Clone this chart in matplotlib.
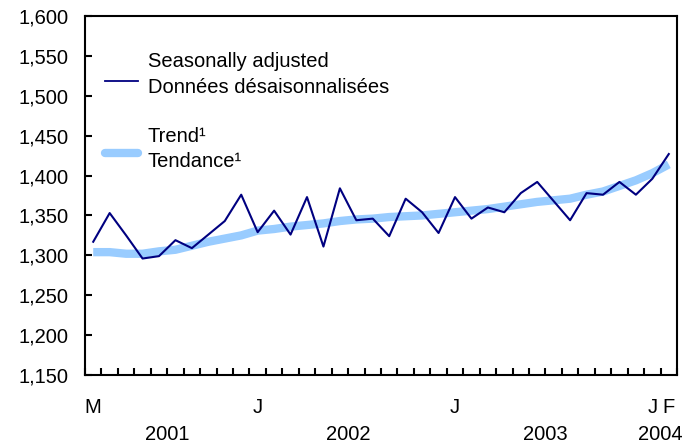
import matplotlib
matplotlib.use("Agg")
import matplotlib.pyplot as plt
import matplotlib.transforms as mtransforms
import numpy as np

plt.rcParams['font.family'] = ['Liberation Sans', 'DejaVu Sans']

# monthly series, March 2001 to February 2004
seasonally_adjusted = [1317, 1353, 1325, 1296, 1299, 1319, 1309, 1326, 1343, 1376,
                       1329, 1356, 1326, 1373, 1311, 1384, 1344, 1346, 1324, 1371,
                       1354, 1328, 1373, 1346, 1360, 1354, 1378, 1392, 1368, 1344,
                       1378, 1376, 1392, 1376, 1396, 1427]
trend = [1304, 1304, 1302, 1302, 1305, 1307, 1312, 1317, 1321, 1325,
         1331, 1333, 1336, 1338, 1340, 1343, 1345, 1346, 1348, 1349,
         1350, 1352, 1354, 1356, 1358, 1361, 1364, 1367, 1369, 1371,
         1376, 1380, 1387, 1394, 1403, 1414]

month_labels = {0: "M", 10: "J", 22: "J", 34: "J", 35: "F"}
year_labels = ["2001", "2002", "2003", "2004"]
year_spans = [(0, 10), (10, 22), (22, 34), (34, 36)]
y_ticks = list(range(1150, 1601, 50))

navy = "#000080"
light_blue = "#99CCFF"
fs = 14.5

fig = plt.figure(figsize=(6.99, 4.47), dpi=100)
ax = fig.add_axes([85/699, 1 - 375/447, 592/699, 359/447])

x = np.arange(len(seasonally_adjusted)) + 0.5
ax.plot(x, trend, color=light_blue, lw=6, solid_capstyle="butt", zorder=2)
ax.plot(x, seasonally_adjusted, color=navy, lw=1.5, zorder=3)

ax.set_xlim(0, len(seasonally_adjusted))
ax.set_ylim(1150, 1600)

ax.set_yticks(y_ticks)
ax.set_yticklabels([f"{v:,}" for v in y_ticks], fontsize=fs)
ax.tick_params(axis="y", direction="in", length=5, width=1.5, pad=12)

ax.set_xticks(np.arange(0, len(seasonally_adjusted) + 1))
ax.set_xticklabels([])
ax.tick_params(axis="x", direction="in", length=5, width=1.5)

for s in ax.spines.values():
    s.set_linewidth(1.5)

trans = mtransforms.blended_transform_factory(ax.transData, ax.transAxes)
for i, lab in month_labels.items():
    ax.text(i + 0.5, -0.1058, lab, transform=trans, ha="center", va="baseline", fontsize=fs)
for lab, (a, b) in zip(year_labels, year_spans):
    ax.text((a + b) / 2, -0.1811, lab, transform=trans, ha="center", va="baseline", fontsize=fs)

# legend drawn by hand
ax.plot([0.0338, 0.0895], [0.8203, 0.8203], color=navy, lw=1.3, transform=ax.transAxes)
ax.plot([0.0338, 0.0895], [0.6175, 0.6175], color=light_blue, lw=6,
        solid_capstyle="round", transform=ax.transAxes)
ax.text(0.1064, 0.8588, "Seasonally adjusted", transform=ax.transAxes, va="baseline", fontsize=fs)
ax.text(0.1064, 0.7847, "Données désaisonnalisées", transform=ax.transAxes, va="baseline", fontsize=fs)
ax.text(0.1064, 0.6499, "Trend¹", transform=ax.transAxes, va="baseline", fontsize=fs)
ax.text(0.1064, 0.5802, "Tendance¹", transform=ax.transAxes, va="baseline", fontsize=fs)

fig.savefig("out.png", dpi=100)
